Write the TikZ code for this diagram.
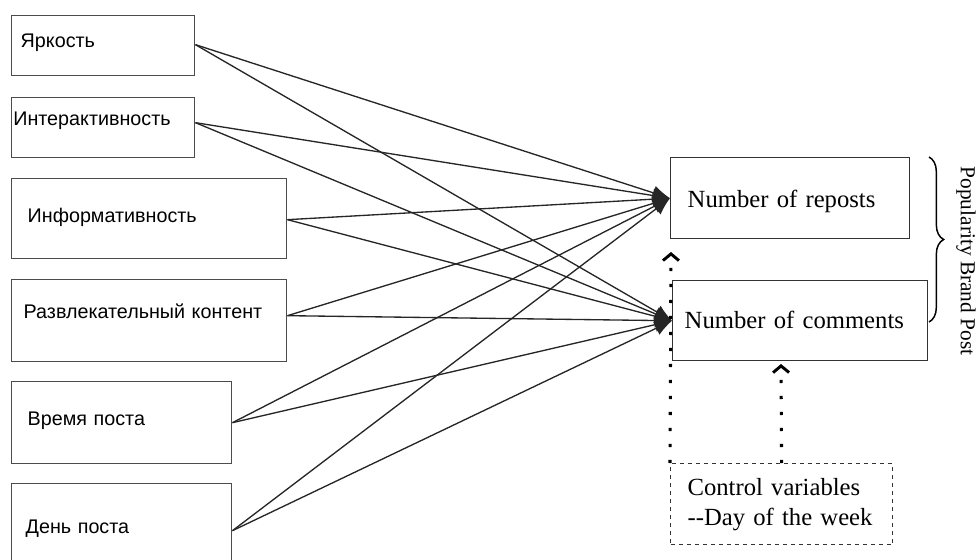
\documentclass[tikz,border=0pt]{standalone}
\usepackage{fontspec}
\setmainfont{Liberation Serif}
\newfontfamily\cyrsans{Liberation Sans}
\usepackage{tikz}
\tikzset{>=latex}
\usetikzlibrary{arrows.meta,positioning,decorations.pathreplacing}
\tikzset{
  % boxes on the left, text sits in the upper part
  factor/.style={draw=black!70, line width=1.1pt, anchor=north west, inner ysep=0pt, align=left,
    font=\cyrsans\fontsize{14.8}{17}\selectfont},
  outcome/.style={draw=black!80, line width=1.1pt, anchor=north west, inner ysep=0pt, align=left,
    font=\fontsize{18.5}{22}\selectfont},
  link/.style={draw=black!85, line width=1pt, -{Latex[length=13pt,width=11pt]}},
  control/.style={line width=2.3pt, dash pattern=on 2.3pt off 9.7pt,
    -{Straight Barb[length=5pt,width=12pt,line width=2.2pt]}},
}
\begin{document}
\begin{tikzpicture}[x=0.75pt, y=-0.75pt]
            \useasboundingbox (0,0) rectangle (978,560);

            \node[factor, inner xsep=6.75pt, text width=123.75pt, text height=24pt, text depth=21pt] (yark) at (11,15) {Яркость};
            \node[factor, inner xsep=1.2pt, text width=134.85pt, text height=21pt, text depth=24pt] (inter) at (11,97) {Интерактивность};
            \node[factor, inner xsep=12pt, text width=182.25pt, text height=33pt, text depth=27pt] (inform) at (11,178) {Информативность};
            \node[factor, inner xsep=9pt, text width=188.25pt, text height=29.25pt, text depth=32.25pt] (razv) at (11,279) {Развлекательный контент};
            \node[factor, inner xsep=12pt, text width=141pt, text height=33pt, text depth=28.5pt] (vrem) at (11,381) {Время поста};
            \node[factor, inner xsep=10.5pt, text width=144pt, text height=37.5pt, text depth=24pt] (den) at (11,483) {День поста};

            \node[outcome, inner xsep=12.75pt, text width=153.75pt, text height=37.5pt, text depth=23.25pt] (rep) at (670,157) {Number of reposts};
            \node[outcome, inner xsep=9pt, text width=173.25pt, text height=36pt, text depth=24pt] (com) at (672,280) {Number of comments};

            \foreach \src in {yark,inter,inform,razv,vrem,den} {
                \draw[link] (\src.mid east) -- (rep.west);
                \draw[link] (\src.mid east) -- (com.west);
            }

            % brace over both outcomes
            \coordinate (btop) at (929,157);
            \coordinate (bbot) at (929,322);
            \draw[decorate, decoration={brace, amplitude=11pt}, line width=1.1pt] (btop) -- (bbot);
            \node[rotate=-90, inner sep=0pt, font=\fontsize{16}{18}\selectfont] (pop) at (966,261) {Popularity Brand Post};

            \node[draw=black!80, dashed, line width=0.9pt, anchor=north west, inner xsep=12.75pt, inner ysep=0pt,
                text width=141pt, minimum height=60.75pt, align=left, font=\fontsize{18.5}{22.5}\selectfont]
                (ctrl) at (670,463) {Control variables\\-{}-Day of the week};

            \coordinate (upL) at (671,252);
            \coordinate (upR) at (781,364);
            \draw[control] (ctrl.north west) -- (upL);
            \draw[control] (ctrl.north) -- (upR);
        \end{tikzpicture}
\end{document}
